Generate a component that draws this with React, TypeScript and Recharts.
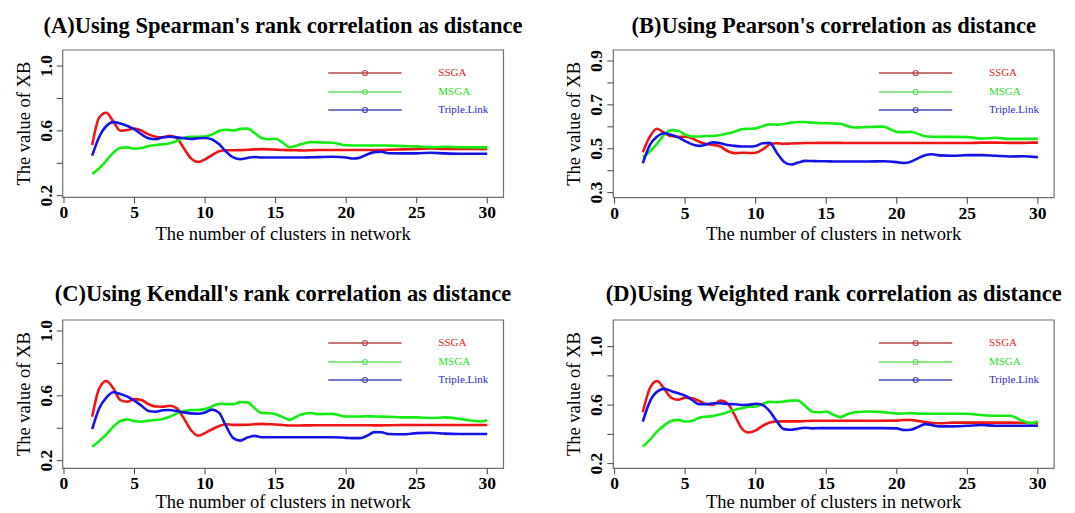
import { LineChart, Line, XAxis, YAxis, ReferenceArea } from "recharts";

// x positions (number of clusters), sampled finer where the curves move
const X = [
  2, 2.5, 3, 3.5, 4, 4.5, 5, 5.5, 6, 6.5, 7, 7.5, 8, 8.5, 9, 9.5, 10, 10.5, 11,
  11.5, 12, 12.5, 13, 13.5, 14, 14.5, 15, 15.5, 16, 16.5, 17, 17.5, 18, 19, 20,
  20.5, 21, 21.5, 22, 22.5, 23, 24, 25, 26, 27, 28, 29, 29.5, 30,
];

// (A) Spearman
const SSGA_A = [
  0.513, 0.683, 0.712, 0.657, 0.601, 0.605, 0.615, 0.601, 0.578, 0.564, 0.56,
  0.57, 0.554, 0.492, 0.43, 0.408, 0.424, 0.451, 0.474, 0.48, 0.48, 0.481, 0.483,
  0.486, 0.487, 0.486, 0.484, 0.482, 0.481, 0.48, 0.479, 0.48, 0.482, 0.482,
  0.482, 0.482, 0.482, 0.482, 0.482, 0.482, 0.483, 0.486, 0.488, 0.491, 0.488,
  0.488, 0.488, 0.488, 0.488,
];
const MSGA_A = [
  0.334, 0.369, 0.416, 0.465, 0.496, 0.498, 0.49, 0.494, 0.506, 0.513, 0.517,
  0.523, 0.537, 0.558, 0.564, 0.564, 0.565, 0.578, 0.6, 0.607, 0.602, 0.612,
  0.614, 0.587, 0.556, 0.548, 0.551, 0.527, 0.499, 0.51, 0.522, 0.531, 0.529,
  0.527, 0.511, 0.51, 0.51, 0.51, 0.51, 0.51, 0.509, 0.506, 0.504, 0.499, 0.502,
  0.499, 0.498, 0.498, 0.498,
];
const TRIPLE_A = [
  0.447, 0.564, 0.63, 0.654, 0.646, 0.63, 0.609, 0.578, 0.554, 0.548, 0.56,
  0.564, 0.56, 0.554, 0.55, 0.554, 0.556, 0.547, 0.517, 0.471, 0.436, 0.425,
  0.433, 0.439, 0.436, 0.436, 0.436, 0.436, 0.436, 0.436, 0.436, 0.437, 0.438,
  0.44, 0.436, 0.429, 0.436, 0.455, 0.469, 0.471, 0.462, 0.461, 0.461, 0.465,
  0.461, 0.459, 0.459, 0.459, 0.459,
];

// (B) Pearson
const SSGA_B = [
  0.484, 0.555, 0.591, 0.573, 0.558, 0.555, 0.555, 0.548, 0.532, 0.522, 0.517,
  0.51, 0.49, 0.48, 0.482, 0.481, 0.482, 0.497, 0.52, 0.525, 0.523, 0.524, 0.525,
  0.526, 0.526, 0.527, 0.527, 0.527, 0.527, 0.526, 0.526, 0.526, 0.526, 0.526,
  0.526, 0.526, 0.526, 0.526, 0.526, 0.526, 0.526, 0.526, 0.526, 0.528, 0.528,
  0.527, 0.527, 0.528, 0.528,
];
const MSGA_B = [
  0.461, 0.487, 0.522, 0.563, 0.585, 0.582, 0.565, 0.556, 0.556, 0.558, 0.558,
  0.563, 0.57, 0.578, 0.589, 0.591, 0.593, 0.603, 0.611, 0.61, 0.613, 0.619,
  0.622, 0.622, 0.619, 0.617, 0.616, 0.615, 0.614, 0.604, 0.597, 0.598, 0.599,
  0.601, 0.577, 0.576, 0.577, 0.568, 0.557, 0.555, 0.554, 0.554, 0.553, 0.546,
  0.55, 0.545, 0.545, 0.545, 0.545,
];
const TRIPLE_B = [
  0.434, 0.517, 0.555, 0.571, 0.564, 0.552, 0.535, 0.52, 0.513, 0.52, 0.529,
  0.525, 0.517, 0.513, 0.51, 0.51, 0.513, 0.525, 0.527, 0.482, 0.441, 0.428,
  0.437, 0.445, 0.444, 0.443, 0.443, 0.442, 0.442, 0.442, 0.442, 0.442, 0.442,
  0.443, 0.439, 0.435, 0.441, 0.456, 0.47, 0.475, 0.47, 0.468, 0.471, 0.471,
  0.468, 0.465, 0.466, 0.464, 0.462,
];

// (C) Kendall
const SSGA_C = [
  0.471, 0.646, 0.692, 0.646, 0.574, 0.564, 0.58, 0.574, 0.548, 0.534, 0.533,
  0.539, 0.523, 0.461, 0.389, 0.354, 0.37, 0.394, 0.414, 0.425, 0.421, 0.421,
  0.422, 0.425, 0.427, 0.425, 0.423, 0.42, 0.417, 0.417, 0.418, 0.418, 0.419,
  0.419, 0.419, 0.419, 0.419, 0.419, 0.418, 0.418, 0.419, 0.42, 0.42, 0.42, 0.42,
  0.42, 0.42, 0.42, 0.42,
];
const MSGA_C = [
  0.286, 0.321, 0.362, 0.41, 0.445, 0.455, 0.443, 0.441, 0.447, 0.451, 0.457,
  0.471, 0.492, 0.506, 0.513, 0.513, 0.518, 0.535, 0.551, 0.549, 0.549, 0.562,
  0.56, 0.525, 0.494, 0.493, 0.487, 0.469, 0.452, 0.473, 0.489, 0.494, 0.487,
  0.489, 0.473, 0.473, 0.473, 0.474, 0.473, 0.472, 0.471, 0.467, 0.467, 0.463,
  0.467, 0.458, 0.446, 0.442, 0.45,
];
const TRIPLE_C = [
  0.395, 0.523, 0.589, 0.622, 0.611, 0.595, 0.57, 0.539, 0.506, 0.502, 0.511,
  0.513, 0.506, 0.498, 0.492, 0.49, 0.498, 0.515, 0.495, 0.411, 0.339, 0.324,
  0.343, 0.353, 0.345, 0.345, 0.345, 0.345, 0.345, 0.345, 0.345, 0.345, 0.345,
  0.345, 0.341, 0.339, 0.339, 0.355, 0.376, 0.375, 0.365, 0.363, 0.37, 0.372,
  0.367, 0.365, 0.365, 0.365, 0.365,
];

// (D) Weighted rank
const SSGA_D = [
  0.551, 0.715, 0.765, 0.715, 0.651, 0.637, 0.651, 0.647, 0.628, 0.608, 0.603,
  0.631, 0.613, 0.533, 0.442, 0.413, 0.427, 0.459, 0.481, 0.488, 0.489, 0.489,
  0.489, 0.491, 0.493, 0.493, 0.493, 0.493, 0.493, 0.493, 0.493, 0.493, 0.493,
  0.493, 0.494, 0.498, 0.498, 0.492, 0.484, 0.478, 0.476, 0.48, 0.48, 0.48, 0.48,
  0.48, 0.479, 0.478, 0.477,
];
const MSGA_D = [
  0.316, 0.362, 0.419, 0.46, 0.492, 0.499, 0.488, 0.492, 0.514, 0.521, 0.526,
  0.537, 0.551, 0.567, 0.578, 0.589, 0.591, 0.609, 0.622, 0.62, 0.625, 0.631,
  0.632, 0.595, 0.557, 0.551, 0.556, 0.534, 0.518, 0.538, 0.551, 0.555, 0.556,
  0.552, 0.542, 0.543, 0.545, 0.542, 0.541, 0.541, 0.541, 0.541, 0.541, 0.532,
  0.527, 0.527, 0.489, 0.477, 0.489,
];
const TRIPLE_D = [
  0.487, 0.624, 0.692, 0.711, 0.697, 0.681, 0.665, 0.635, 0.606, 0.606, 0.613,
  0.613, 0.608, 0.606, 0.601, 0.602, 0.609, 0.6, 0.557, 0.489, 0.436, 0.432,
  0.439, 0.445, 0.441, 0.443, 0.443, 0.443, 0.443, 0.443, 0.443, 0.443, 0.443,
  0.443, 0.441, 0.43, 0.432, 0.45, 0.47, 0.463, 0.455, 0.455, 0.459, 0.464,
  0.459, 0.459, 0.459, 0.459, 0.459,
];

const X_TICKS = [0, 5, 10, 15, 20, 25, 30];
const Y_TICKS = [0.2, 0.4, 0.6, 0.8, 1.0];
const Y_LABELS = [0.2, 0.6, 1.0];
const Y_TICKS_B = [0.3, 0.4, 0.5, 0.6, 0.7, 0.8, 0.9];
const Y_LABELS_B = [0.3, 0.5, 0.7, 0.9];
const SERIES_NAMES = ["SSGA", "MSGA", "Triple.Link"];

const SERIF = '"Liberation Serif", "Times New Roman", serif';
const X_DOMAIN = [-0.09, 31.15];
const LINE_COLORS = ["#f01414", "#14ec14", "#1414e6"];
const LEGEND_LINE = ["#b54a4a", "#66dd66", "#4a4ab5"];
const LEGEND_TEXT = ["#e02828", "#28e028", "#2828d0"];

const PANELS = [
  {
    title: "(A)Using Spearman's rank correlation as distance",
    series: [SSGA_A, MSGA_A, TRIPLE_A],
    yDomain: [0.19, 1.099],
    yTicks: Y_TICKS,
    yLabels: Y_LABELS,
    frame: [0, 0, 537, 265],
    box: [62.7, 50, 503.5, 197.3],
    titleY: 32.7,
    xTitleY: 239.5,
  },
  {
    title: "(B)Using Pearson's correlation as distance",
    series: [SSGA_B, MSGA_B, TRIPLE_B],
    yDomain: [0.277, 0.95],
    yTicks: Y_TICKS_B,
    yLabels: Y_LABELS_B,
    frame: [537, 0, 538, 265],
    box: [613.3, 50, 1054.1, 197.7],
    titleY: 32.7,
    xTitleY: 239.5,
  },
  {
    title: "(C)Using Kendall's rank correlation as distance",
    series: [SSGA_C, MSGA_C, TRIPLE_C],
    yDomain: [0.153, 1.068],
    yTicks: Y_TICKS,
    yLabels: Y_LABELS,
    frame: [0, 265, 537, 248],
    box: [62.7, 320, 503.5, 468.3],
    titleY: 301,
    xTitleY: 508,
  },
  {
    title: "(D)Using Weighted rank correlation as distance",
    series: [SSGA_D, MSGA_D, TRIPLE_D],
    yDomain: [0.168, 1.182],
    yTicks: Y_TICKS,
    yLabels: Y_LABELS,
    frame: [537, 265, 538, 248],
    box: [613.3, 320, 1054.1, 468.3],
    titleY: 301,
    xTitleY: 508,
  },
];

function XTick(props: any) {
  const { x, y, payload } = props;
  return (
    <text
      x={x}
      y={y + 15}
      textAnchor="middle"
      fontFamily={SERIF}
      fontWeight="bold"
      fontSize={17.5}
      fill="#000"
    >
      {payload.value}
    </text>
  );
}

function YTick(props: any) {
  const { x, y, payload, labels } = props;
  const v = payload.value;
  if (!labels.some((l: number) => Math.abs(l - v) < 1e-6)) return <g />;
  return (
    <text
      transform={`translate(${x - 5},${y}) rotate(-90)`}
      textAnchor="middle"
      fontFamily={SERIF}
      fontWeight="bold"
      fontSize={17.5}
      fill="#000"
    >
      {v.toFixed(1)}
    </text>
  );
}

function Panel({ p }: { p: (typeof PANELS)[number] }) {
  const [fx, fy, fw, fh] = p.frame;
  const [bl, bt, br, bb] = p.box;
  const data = X.map((x, i) => ({
    x,
    ssga: p.series[0][i],
    msga: p.series[1][i],
    triple: p.series[2][i],
  }));
  const keys = ["ssga", "msga", "triple"];

  return (
    <div style={{ position: "absolute", left: fx, top: fy, width: fw, height: fh }}>
      <LineChart
        width={fw}
        height={fh}
        data={data}
        margin={{ top: bt - fy, right: fx + fw - br, bottom: 0, left: 0 }}
      >
        <XAxis
          type="number"
          dataKey="x"
          domain={X_DOMAIN}
          ticks={X_TICKS}
          interval={0}
          allowDataOverflow
          height={fy + fh - bb}
          tickSize={6}
          tickMargin={0}
          axisLine={false}
          tickLine={{ stroke: "#444" }}
          tick={(t: any) => <XTick {...t} />}
        />
        <YAxis
          type="number"
          domain={p.yDomain}
          ticks={p.yTicks}
          interval={0}
          allowDataOverflow
          width={bl - fx}
          tickSize={6}
          tickMargin={0}
          axisLine={false}
          tickLine={{ stroke: "#444" }}
          tick={(t: any) => <YTick {...t} labels={p.yLabels} />}
        />
        <ReferenceArea
          x1={X_DOMAIN[0]}
          x2={X_DOMAIN[1]}
          y1={p.yDomain[0]}
          y2={p.yDomain[1]}
          fill="#fff"
          fillOpacity={0}
          stroke="#707070"
          strokeWidth={1.2}
          ifOverflow="visible"
        />
        {keys.map((k, i) => (
          <Line
            key={k}
            type="monotone"
            dataKey={k}
            stroke={LINE_COLORS[i]}
            strokeWidth={2.6}
            dot={false}
            isAnimationActive={false}
          />
        ))}
      </LineChart>
      <svg
        width={fw}
        height={fh}
        style={{ position: "absolute", left: 0, top: 0, pointerEvents: "none" }}
      >
        <g transform={`translate(${-fx},${-fy})`}>
          <text
            x={(bl + br) / 2}
            y={p.titleY}
            textAnchor="middle"
            fontFamily={SERIF}
            fontWeight="bold"
            fontSize={22.5}
            fill="#000"
          >
            {p.title}
          </text>
          <text
            x={(bl + br) / 2}
            y={p.xTitleY}
            textAnchor="middle"
            fontFamily={SERIF}
            fontSize={18.5}
            fill="#000"
          >
            The number of clusters in network
          </text>
          <text
            transform={`translate(${bl - 33},${(bt + bb) / 2}) rotate(-90)`}
            textAnchor="middle"
            fontFamily={SERIF}
            fontSize={18.5}
            fill="#000"
          >
            The value of XB
          </text>
          {SERIES_NAMES.map((name, i) => {
            const ly = bt + [23, 42, 60][i];
            return (
              <g key={name}>
                <line
                  x1={bl + 265.6}
                  x2={bl + 339}
                  y1={ly}
                  y2={ly}
                  stroke={LEGEND_LINE[i]}
                  strokeWidth={1.3}
                />
                <circle
                  cx={bl + 302.3}
                  cy={ly}
                  r={2.5}
                  fill="none"
                  stroke={LEGEND_LINE[i]}
                  strokeWidth={1.2}
                />
                <text
                  x={bl + 375.6}
                  y={ly}
                  dominantBaseline="middle"
                  fontFamily={SERIF}
                  fontSize={11}
                  fill={LEGEND_TEXT[i]}
                >
                  {name}
                </text>
              </g>
            );
          })}
        </g>
      </svg>
    </div>
  );
}

export default function App() {
  return (
    <div
      style={{
        position: "absolute",
        left: 0,
        top: 0,
        width: 1075,
        height: 513,
        background: "#fff",
      }}
    >
      {PANELS.map((p) => (
        <Panel key={p.title} p={p} />
      ))}
    </div>
  );
}
